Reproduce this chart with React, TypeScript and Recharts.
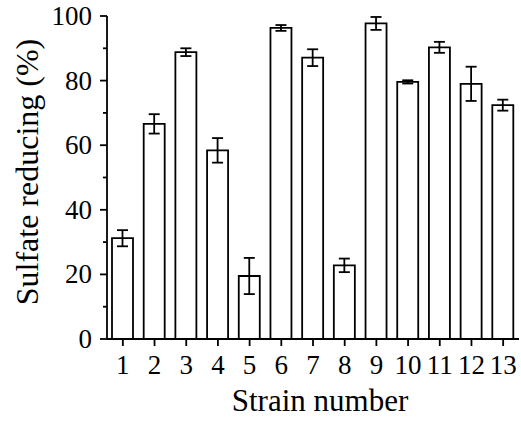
import { BarChart, Bar, XAxis, YAxis, ErrorBar, Label } from "recharts";

const strains = ["1", "2", "3", "4", "5", "6", "7", "8", "9", "10", "11", "12", "13"];
const reducing = [31.2, 66.6, 88.8, 58.4, 19.5, 96.3, 87.1, 22.8, 97.7, 79.6, 90.3, 79.0, 72.4];
const reducingErr = [2.5, 3.0, 1.2, 3.8, 5.6, 0.9, 2.6, 2.1, 2.0, 0.5, 1.7, 5.3, 1.7];
const yTicks = [0, 10, 20, 30, 40, 50, 60, 70, 80, 90, 100];

const FONT = '"Liberation Serif", "Times New Roman", serif';
const INK = "#000";
const SW = 1.8;

const data = strains.map((s, i) => ({ strain: s, value: reducing[i], err: reducingErr[i] }));

function YTick({ x, y, payload }: any) {
  const major = payload.value % 20 === 0;
  return (
    <g>
      <line x1={x - (major ? 7 : 4)} x2={x} y1={y} y2={y} stroke={INK} strokeWidth={SW} />
      {major && (
        <text x={x - 15} y={y + 9} textAnchor="end" fontFamily={FONT} fontSize={27} fill={INK}>
          {payload.value}
        </text>
      )}
    </g>
  );
}

function XTick({ x, y, payload }: any) {
  return (
    <g>
      <line x1={x} x2={x} y1={y} y2={y + 7} stroke={INK} strokeWidth={SW} />
      <text x={x} y={y + 35} textAnchor="middle" fontFamily={FONT} fontSize={27} fill={INK}>
        {payload.value}
      </text>
    </g>
  );
}

export default function App() {
  return (
    <div style={{ position: "absolute", left: 0, top: 0, width: 521, height: 425, background: "#fff" }}>
      <BarChart width={521} height={425} data={data} margin={{ top: 16, right: 2, bottom: 0, left: 0 }}>
        <XAxis
          dataKey="strain"
          height={86}
          interval={0}
          tickSize={0}
          tickMargin={0}
          tick={<XTick />}
          axisLine={{ stroke: INK, strokeWidth: SW }}
        >
          <Label
            content={({ viewBox }: any) => (
              <text
                x={viewBox.x + viewBox.width / 2 + 7}
                y={411}
                textAnchor="middle"
                fontFamily={FONT}
                fontSize={31}
                fill={INK}
              >
                Strain number
              </text>
            )}
          />
        </XAxis>
        <XAxis xAxisId="top" dataKey="strain" orientation="top" height={0} tick={false} tickLine={false} axisLine={{ stroke: INK, strokeWidth: SW }} />
        <YAxis
          width={107}
          domain={[0, 100]}
          ticks={yTicks}
          interval={0}
          tickSize={0}
          tickMargin={0}
          tick={<YTick />}
          axisLine={{ stroke: INK, strokeWidth: SW }}
        >
          <Label
            content={() => (
              <text
                x={38}
                y={172}
                transform="rotate(-90, 38, 172)"
                textAnchor="middle"
                fontFamily={FONT}
                fontSize={32}
                fill={INK}
              >
                Sulfate reducing (%)
              </text>
            )}
          />
        </YAxis>
        <YAxis yAxisId="right" orientation="right" width={0} domain={[0, 100]} tick={false} tickLine={false} axisLine={{ stroke: INK, strokeWidth: SW }} />
        <Bar dataKey="value" fill="#fff" stroke={INK} strokeWidth={SW} barSize={21} isAnimationActive={false}>
          <ErrorBar dataKey="err" width={5.5} stroke={INK} strokeWidth={SW} direction="y" />
        </Bar>
      </BarChart>
    </div>
  );
}
